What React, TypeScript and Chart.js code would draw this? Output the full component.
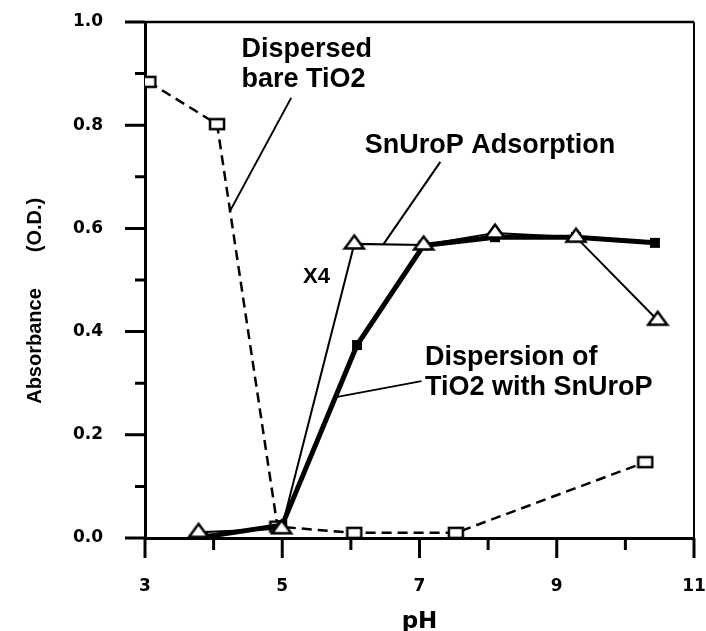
import React, { useEffect, useRef } from 'react';
import { Chart, registerables } from 'chart.js';

Chart.register(...registerables);

// ---- data ----
const bareTiO2PH = [3.05, 4.05, 4.93, 6.05, 7.53, 10.29];
const bareTiO2Abs = [0.884, 0.802, 0.022, 0.01, 0.01, 0.147];

const adsorptionPH = [3.78, 4.99, 6.05, 7.06, 8.1, 9.28, 10.47];
const adsorptionAbs = [0.011, 0.018, 0.57, 0.568, 0.591, 0.583, 0.422];

const dispersionPH = [3.85, 5.0, 6.09, 7.06, 8.1, 9.28, 10.43];
const dispersionAbs = [0.002, 0.025, 0.374, 0.567, 0.583, 0.583, 0.572];

const xMajorTicks = [3, 5, 7, 9, 11];
const xMinorTicks = [4, 6, 8, 10];
const yMajorTicks = [0, 0.2, 0.4, 0.6, 0.8, 1.0];
const yMinorTicks = [0.1, 0.3, 0.5, 0.7, 0.9];

const xTitle = 'pH';
const yTitleMain = 'Absorbance';
const yTitleUnit = '(O.D.)';

// annotation texts and leader lines, placed in data coordinates
const annotations = [
  { lines: ['Dispersed', 'bare TiO2'], x: 4.406, y: [0.932, 0.874], size: 27, leader: [5.13, 0.853, 4.232, 0.632] },
  { lines: ['SnUroP Adsorption'], x: 6.203, y: [0.746], size: 27, leader: [7.304, 0.729, 6.478, 0.57] },
  { lines: ['X4'], x: 5.304, y: [0.494], size: 22, leader: null },
  { lines: ['Dispersion of', 'TiO2 with SnUroP'], x: 7.08, y: [0.335, 0.277], size: 27, leader: [7.029, 0.304, 5.783, 0.273] },
];

const toXY = (xs: number[], ys: number[]) => xs.map((x, i) => ({ x, y: ys[i] }));

function makeOpenRect(): HTMLCanvasElement {
  const c = document.createElement('canvas');
  c.width = 18; c.height = 14;
  const g = c.getContext('2d')!;
  g.fillStyle = '#fff';
  g.strokeStyle = '#000';
  g.lineWidth = 2.5;
  g.fillRect(2, 2, 14, 10);
  g.strokeRect(2, 2, 14, 10);
  return c;
}

function makeTriangle(): HTMLCanvasElement {
  const c = document.createElement('canvas');
  c.width = 24; c.height = 22;
  const g = c.getContext('2d')!;
  g.fillStyle = '#fff';
  g.strokeStyle = '#000';
  g.lineWidth = 2.5;
  g.lineJoin = 'miter';
  g.beginPath();
  g.moveTo(12, 2.5);
  g.lineTo(21.5, 15.5);
  g.lineTo(2.5, 15.5);
  g.closePath();
  g.fill();
  g.stroke();
  return c;
}

function makeFilledRect(): HTMLCanvasElement {
  const c = document.createElement('canvas');
  c.width = 12; c.height = 12;
  const g = c.getContext('2d')!;
  g.fillStyle = '#000';
  g.fillRect(1, 1, 10, 10);
  return c;
}

const decorPlugin = {
  id: 'decor',
  beforeDatasetsDraw(chart: any) {
    const { ctx, chartArea: a, scales } = chart;
    const x = scales.x, y = scales.y;
    ctx.save();
    ctx.strokeStyle = '#000';
    ctx.lineCap = 'butt';
    // top and right frame
    const yTop = y.getPixelForValue(1);
    const xRight = x.getPixelForValue(11);
    ctx.lineWidth = 2.5;
    ctx.beginPath();
    ctx.moveTo(a.left, yTop);
    ctx.lineTo(xRight, yTop);
    ctx.stroke();
    ctx.lineWidth = 2;
    ctx.beginPath();
    ctx.moveTo(xRight, yTop);
    ctx.lineTo(xRight, a.bottom);
    ctx.stroke();
    // ticks
    ctx.lineWidth = 3;
    ctx.beginPath();
    xMajorTicks.forEach((v) => {
      const p = x.getPixelForValue(v);
      ctx.moveTo(p, a.bottom);
      ctx.lineTo(p, a.bottom + 20);
    });
    xMinorTicks.forEach((v) => {
      const p = x.getPixelForValue(v);
      ctx.moveTo(p, a.bottom);
      ctx.lineTo(p, a.bottom + 12);
    });
    yMajorTicks.forEach((v) => {
      const p = y.getPixelForValue(v);
      ctx.moveTo(a.left, p);
      ctx.lineTo(a.left - 20, p);
    });
    yMinorTicks.forEach((v) => {
      const p = y.getPixelForValue(v);
      ctx.moveTo(a.left, p);
      ctx.lineTo(a.left - 10, p);
    });
    ctx.stroke();
    ctx.restore();
  },
  afterDraw(chart: any) {
    const { ctx, chartArea: a, scales } = chart;
    const x = scales.x, y = scales.y;
    ctx.save();
    ctx.fillStyle = '#000';
    ctx.strokeStyle = '#000';
    // annotations
    annotations.forEach((an) => {
      ctx.font = `bold ${an.size}px "Liberation Sans", Arial, sans-serif`;
      ctx.textAlign = 'left';
      ctx.textBaseline = 'alphabetic';
      an.lines.forEach((t, i) => {
        ctx.fillText(t, x.getPixelForValue(an.x), y.getPixelForValue(an.y[i]));
      });
      if (an.leader) {
        const [x1, y1, x2, y2] = an.leader;
        ctx.lineWidth = 2;
        ctx.beginPath();
        ctx.moveTo(x.getPixelForValue(x1), y.getPixelForValue(y1));
        ctx.lineTo(x.getPixelForValue(x2), y.getPixelForValue(y2));
        ctx.stroke();
      }
    });
    // x title
    ctx.font = 'bold 23px "DejaVu Sans", sans-serif';
    ctx.textAlign = 'center';
    ctx.textBaseline = 'alphabetic';
    ctx.fillText(xTitle, (a.left + a.right) / 2, 628);
    // y title (rotated)
    ctx.font = 'bold 20px "Liberation Sans", Arial, sans-serif';
    ctx.translate(35, 0);
    ctx.rotate(-Math.PI / 2);
    ctx.textAlign = 'center';
    ctx.textBaseline = 'middle';
    ctx.fillText(yTitleMain, -346, 0);
    ctx.fillText(yTitleUnit, -225, 0);
    ctx.restore();
  },
};

export default function App() {
  const ref = useRef<HTMLCanvasElement | null>(null);

  useEffect(() => {
    document.body.style.margin = '0';
    const canvas = ref.current!;
    const tickFont = { family: '"DejaVu Sans", sans-serif', size: 17, weight: 'bold' as const };
    const chart = new Chart(canvas, {
      type: 'scatter',
      data: {
        datasets: [
          {
            label: 'SnUroP Adsorption',
            data: toXY(adsorptionPH, adsorptionAbs),
            showLine: true,
            borderColor: '#000',
            borderWidth: 2,
            pointStyle: makeTriangle() as any,
            pointRadius: 10,
          },
          {
            label: 'Dispersion of TiO2 with SnUroP',
            data: toXY(dispersionPH, dispersionAbs),
            showLine: true,
            borderColor: '#000',
            borderWidth: 5,
            pointStyle: makeFilledRect() as any,
            pointRadius: 6,
          },
          {
            label: 'Dispersed bare TiO2',
            data: toXY(bareTiO2PH, bareTiO2Abs),
            showLine: true,
            borderColor: '#000',
            borderWidth: 2.5,
            borderDash: [10, 6],
            pointStyle: makeOpenRect() as any,
            pointRadius: 9,
          },
        ],
      },
      options: {
        animation: false,
        responsive: false,
        events: [],
        layout: { padding: { top: 22, right: 9, left: 0, bottom: 0 } },
        plugins: { legend: { display: false }, tooltip: { enabled: false }, title: { display: false } },
        scales: {
          x: {
            type: 'linear',
            min: 3,
            max: 11,
            afterFit: (s: any) => { s.height = 93; s.paddingLeft = 0; s.paddingRight = 0; },
            ticks: {
              stepSize: 1,
              autoSkip: false,
              maxRotation: 0,
              padding: 38,
              color: '#000',
              font: tickFont,
              callback: (v: any) => (xMajorTicks.includes(Number(v)) ? String(v) : ''),
            },
            grid: { drawOnChartArea: false, drawTicks: false, display: true },
            border: { display: true, color: '#000', width: 3 },
          },
          y: {
            type: 'linear',
            min: 0,
            max: 1,
            afterFit: (s: any) => { s.width = 145; s.paddingTop = 0; s.paddingBottom = 0; },
            ticks: {
              stepSize: 0.1,
              autoSkip: false,
              padding: 42,
              color: '#000',
              font: tickFont,
              callback: (v: any) => {
                const n = Number(v);
                return yMajorTicks.some((t) => Math.abs(t - n) < 1e-6) ? n.toFixed(1) : '';
              },
            },
            grid: { drawOnChartArea: false, drawTicks: false, display: true },
            border: { display: true, color: '#000', width: 3 },
          },
        },
      },
      plugins: [decorPlugin],
    });
    return () => chart.destroy();
  }, []);

  return (
    <div style={{ position: 'absolute', left: 0, top: 0, width: 706, height: 631, background: '#fff' }}>
      <canvas ref={ref} width={706} height={631} style={{ display: 'block' }} />
    </div>
  );
}
